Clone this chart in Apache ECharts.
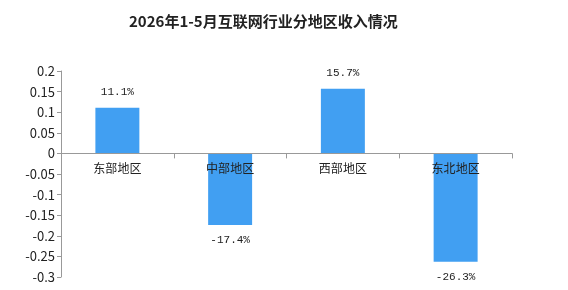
<!DOCTYPE html>
<html>
<head>
<meta charset="utf-8">
<script src="https://cdn.jsdelivr.net/npm/echarts@6/dist/echarts.min.js"></script>
<style>
  html, body { margin: 0; padding: 0; background: #fff; }
  #chart { width: 568px; height: 290px; }
</style>
</head>
<body>
<div id="chart"></div>
<script>
// 地区与增速（小数）
const regions = ['东部地区', '中部地区', '西部地区', '东北地区'];
const growth = [0.111, -0.174, 0.157, -0.263];
const titleText = '2026年1-5月互联网行业分地区收入情况';

const yMin = -0.3;
const yMax = 0.2;
const gridTop = 71;
const gridBottom = 13;
const gridHeight = 290 - gridTop - gridBottom;
// 把x轴（含刻度、标签）整体移到0值处
const zeroOffset = -gridHeight * (0 - yMin) / (yMax - yMin);

const myChart = echarts.init(document.getElementById('chart'));

const option = {
  backgroundColor: '#fff',
  textStyle: { fontFamily: '"Noto Sans CJK SC", sans-serif' },
  title: {
    text: titleText,
    left: 124,
    top: 9,
    textStyle: {
      fontSize: 15,
      fontWeight: 'bold',
      color: '#222',
      fontFamily: '"Noto Sans CJK SC", serif'
    }
  },
  grid: {
    left: 61,
    right: 56,
    top: gridTop,
    bottom: gridBottom
  },
  xAxis: {
    type: 'category',
    data: regions,
    position: 'bottom',
    offset: zeroOffset,
    z: 10, // 标签压在柱子上面
    axisLine: { onZero: false, lineStyle: { color: '#999' } },
    axisTick: { show: true, length: 5, lineStyle: { color: '#999' } },
    axisLabel: { color: '#222', fontSize: 12, margin: 9 }
  },
  yAxis: {
    type: 'value',
    min: yMin,
    max: yMax,
    interval: 0.05,
    splitLine: { show: false },
    axisLine: { show: true, lineStyle: { color: '#999' } },
    axisTick: { show: true, length: 4, lineStyle: { color: '#999' } },
    axisLabel: { color: '#222', fontSize: 13, margin: 6 }
  },
  series: [
    {
      type: 'bar',
      data: growth,
      barWidth: '39%',
      itemStyle: { color: '#419ff2' },
      label: {
        show: true,
        position: 'outside',
        distance: 10,
        color: '#222',
        fontSize: 11,
        fontFamily: '"Liberation Mono", monospace',
        formatter: (p) => (p.value * 100).toFixed(1) + '%'
      }
    }
  ]
};

myChart.setOption(option);
</script>
</body>
</html>
